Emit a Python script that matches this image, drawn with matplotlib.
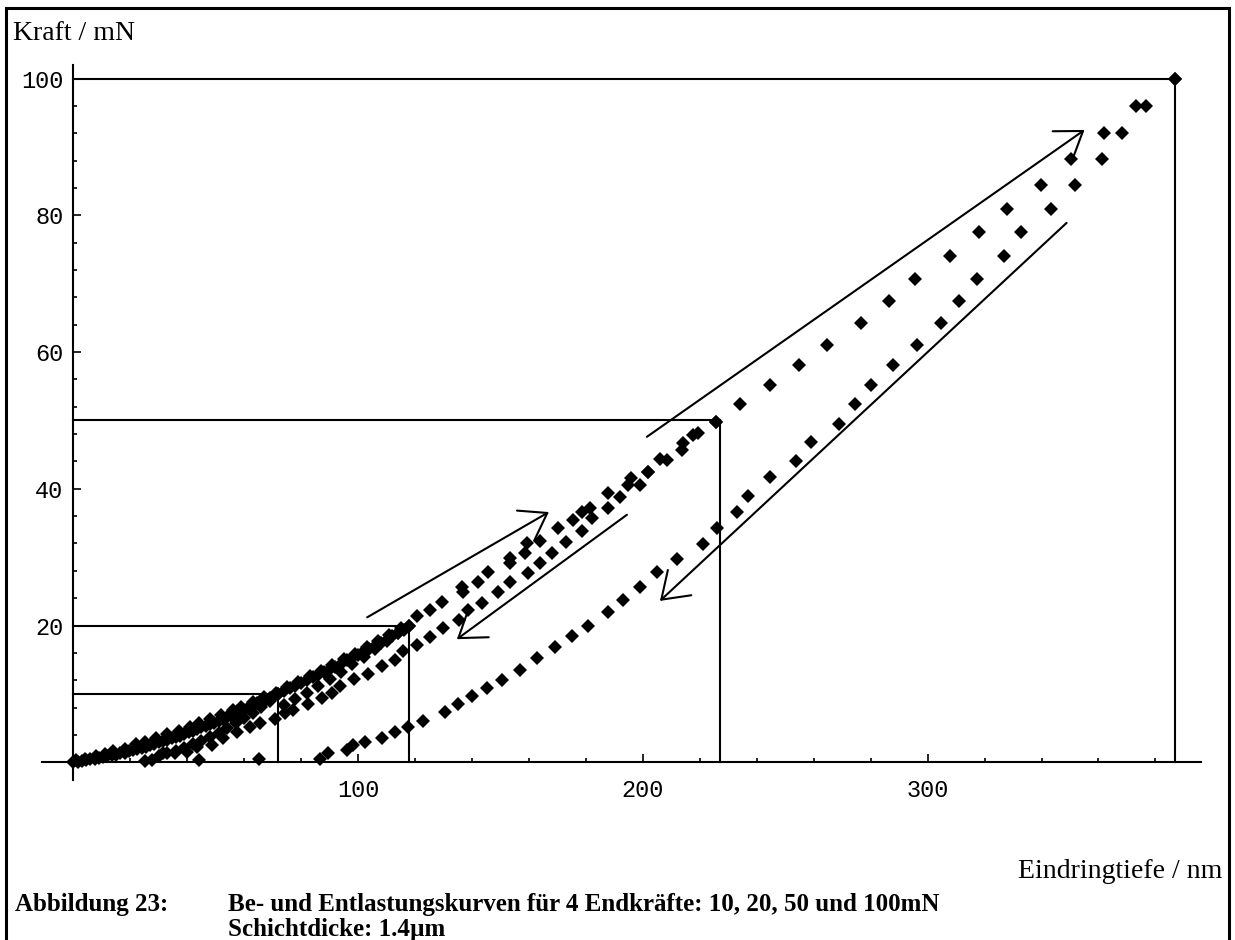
import matplotlib
matplotlib.use('Agg')
import matplotlib.pyplot as plt
from matplotlib.patches import Rectangle

# Endpunkte der 4 Zyklen (Eindringtiefe nm, Kraft mN)
peak_depth = [72, 118, 227, 387]
peak_force = [10, 20, 50, 100]

# Belastung (alle Zyklen liegen fast aufeinander)
load_x = [0, 1.5, 3, 4.5, 6, 7.5, 9, 10.5, 12, 13.5, 15, 16.5, 18, 19.5, 21, 22.5, 24, 25.5, 27, 28.5,
          30, 31.5, 33, 34.5, 36, 37.5, 39, 40.5, 42, 43.5, 45, 46.5, 48, 49.5, 51, 52.5, 54, 55.5,
          57, 58.5, 60, 61.5, 63, 64.5, 66, 67.5, 69, 70.5, 72, 74, 76, 78, 80, 82, 84, 86, 88, 90,
          92, 94, 96, 98, 100, 102, 104, 106, 108, 110, 112, 114, 116, 118,
          120.6, 125.3, 129.4, 136.4, 136.8, 142.1, 145.6, 153.3, 153.3, 159.2, 158.6, 163.9,
          170.2, 175.4, 178.5, 181.4, 187.7, 194.7, 196, 201.8, 206, 213.7, 217.6, 225.8,
          234, 244.6, 255, 264.8, 276.7, 286.3, 295.4, 308, 318, 327.7, 339.9, 350.4, 362, 373.3, 387]
load_y = [0.0, 0.1, 0.2, 0.3, 0.4, 0.5, 0.6, 0.8, 0.9, 1.0, 1.1, 1.3, 1.4, 1.6, 1.8, 2.0, 2.1, 2.3, 2.5, 2.7,
          2.9, 3.1, 3.3, 3.5, 3.7, 3.9, 4.1, 4.4, 4.6, 4.8, 5.1, 5.3, 5.6, 5.8, 6.1, 6.3, 6.6, 6.8,
          7.1, 7.4, 7.7, 8.0, 8.3, 8.6, 8.9, 9.1, 9.4, 9.7, 10.0, 10.4, 10.8, 11.2, 11.6, 12.0, 12.4, 12.8, 13.2, 13.6,
          14.0, 14.4, 14.9, 15.3, 15.7, 16.2, 16.6, 17.0, 17.5, 17.9, 18.4, 18.9, 19.4, 19.9,
          21.4, 22.3, 23.5, 25.7, 24.9, 26.4, 27.9, 29.9, 29.1, 32.0, 30.6, 32.3,
          34.3, 35.4, 36.6, 37.2, 39.4, 40.6, 41.6, 42.5, 44.4, 45.7, 47.9, 49.8,
          52.4, 55.2, 58.1, 61.0, 64.3, 67.5, 70.7, 74.0, 77.5, 81.0, 84.5, 88.3, 92.0, 96.0, 100.0]

load2_x = [1, 4, 8, 11, 14, 18, 22, 25, 29, 33, 37, 41, 44, 48, 52, 56, 59, 63, 67, 71, 75, 79,
           83, 87, 91, 95, 99, 103, 107, 111, 115]
load2_y = [0.3, 0.5, 0.9, 1.2, 1.6, 2.0, 2.6, 3.0, 3.5, 4.1, 4.6, 5.2, 5.7, 6.3, 6.9, 7.6, 8.1, 8.8, 9.5, 10.2, 11.0, 11.8,
           12.6, 13.4, 14.2, 15.1, 15.9, 16.8, 17.7, 18.6, 19.6]

# Entlastung 10 mN und 20 mN (im Band)
unload10_x = [72, 69, 66, 63, 60, 57, 54, 51, 48, 45, 42, 39, 36, 33, 30, 27.7, 25]
unload10_y = [10.0, 9.0, 8.1, 7.2, 6.4, 5.7, 5.0, 4.3, 3.7, 3.1, 2.6, 2.1, 1.7, 1.3, 0.9, 0.3, 0.2]
unload20_x = [118, 114, 110, 106, 102, 98, 94, 90, 86, 82, 78, 74, 44]
unload20_y = [20.0, 18.9, 17.7, 16.6, 15.4, 14.3, 13.2, 12.2, 11.1, 10.1, 9.2, 8.3, 0.3]

# Entlastung 50 mN
unload50_x = [225.8, 219.3, 214, 208.4, 201.8, 199, 192, 187.7, 182, 178.5, 172.9, 168, 163.9, 159.6,
              153.3, 149, 143.4, 138.6, 135.4, 129.8, 125.3, 120.6, 115.7, 113, 108.4, 103.5, 98.6,
              93.7, 90.8, 87.3, 82.5, 77.2, 74.4, 70.9, 65.6, 62.1, 57.4, 52.7, 48.7, 43.5, 39.9,
              35.8, 31.6, 65.3]
unload50_y = [49.8, 48.2, 46.7, 44.2, 42.5, 40.6, 38.8, 37.2, 35.7, 33.9, 32.2, 30.6, 29.2, 27.7,
              26.3, 24.9, 23.3, 22.3, 20.8, 19.6, 18.3, 17.1, 16.2, 14.9, 14.1, 12.9, 12.2,
              11.2, 10.1, 9.4, 8.5, 7.6, 7.2, 6.3, 5.7, 5.1, 4.4, 3.5, 2.5, 2.2, 1.5,
              1.3, 1.3, 0.4]

# Entlastung 100 mN
unload100_x = [387, 376.8, 368.4, 361.4, 351.6, 343.4, 332.9, 326.7, 317.2, 310.9, 304.8, 296.4, 288,
               280.2, 274.6, 269, 259.2, 253.7, 244.6, 237, 233, 226, 221, 212, 205, 199, 193, 187.7,
               180.7, 175, 169, 163, 157, 150.5, 145.3, 140, 135, 130.5, 122.8, 117.5, 113, 108.4,
               102.5, 98.2, 96, 89.5, 86.7]
unload100_y = [100, 96, 92, 88.3, 84.5, 81, 77.5, 74, 70.7, 67.5, 64.3, 61, 58.1,
               55.2, 52.4, 49.5, 46.8, 44.1, 41.7, 39, 36.6, 34.3, 31.9, 29.7, 27.8, 25.6, 23.7, 22,
               20, 18.4, 16.8, 15.2, 13.5, 12, 10.8, 9.7, 8.5, 7.3, 6.1, 5.1, 4.4, 3.5,
               2.9, 2.5, 1.8, 1.3, 0.4]

# Pfeile: (Start, Spitze)
arrows = [((103.2, 21.2), (167, 36.6)),
          ((194.4, 36.2), (134.7, 18.0)),
          ((201.4, 47.6), (355.1, 92.5)),
          ((348.8, 78.9), (206, 23.6))]

fig = plt.figure(figsize=(12.35, 9.4), dpi=100)
W, H = 1235, 940
ax = fig.add_axes([42 / W, (H - 780) / H, (1201 - 42) / W, (780 - 65) / H])
ax.set_xlim(-11, 396)
ax.set_ylim(-2.6, 102)

for s in ['top', 'right']:
    ax.spines[s].set_visible(False)
for s in ['left', 'bottom']:
    ax.spines[s].set_position(('data', 0))
    ax.spines[s].set_linewidth(1.5)

# Hilfslinien zu den Endpunkten
for d, f in zip(peak_depth, peak_force):
    ax.plot([0, d], [f, f], color='k', lw=1.5)
    ax.plot([d, d], [0, f], color='k', lw=1.5)

mk = dict(marker='D', ms=7.5, color='k', ls='none', mew=0)
ax.plot(load_x, load_y, **mk)
ax.plot(load2_x, load2_y, **mk)
ax.plot(unload10_x, unload10_y, **mk)
ax.plot(unload20_x, unload20_y, **mk)
ax.plot(unload50_x, unload50_y, **mk)
ax.plot(unload100_x, unload100_y, **mk)

for start, tip in arrows:
    ax.annotate('', xy=tip, xytext=start,
                arrowprops=dict(arrowstyle='->,head_length=0.9,head_width=0.62',
                                mutation_scale=20, lw=1.5, color='k',
                                shrinkA=0, shrinkB=0))

ax.set_xticks([100, 200, 300])
ax.set_xticks([20, 40, 60, 80, 120, 140, 160, 180, 220, 240, 260, 280, 320, 340, 360, 380], minor=True)
ax.set_yticks([20, 40, 60, 80, 100])
ax.set_yticks([4, 8, 12, 16, 24, 28, 32, 36, 44, 48, 52, 56, 64, 68, 72, 76, 84, 88, 92, 96], minor=True)
ax.tick_params(which='both', direction='in', width=1.2, color='k')
ax.tick_params(which='major', length=6)
ax.tick_params(which='minor', length=3)
ax.tick_params(axis='x', pad=12)
ax.tick_params(axis='y', pad=7)
for lab in ax.get_xticklabels() + ax.get_yticklabels():
    lab.set_fontfamily('Liberation Mono')
    lab.set_fontsize(17)

serif = 'Liberation Serif'
fig.text(13 / W, 1 - 40 / H, 'Kraft / mN', family=serif, size=20, va='baseline', ha='left')
fig.text(1222 / W, 1 - 878 / H, 'Eindringtiefe / nm', family=serif, size=20, va='baseline', ha='right')
fig.text(15 / W, 1 - 911 / H, 'Abbildung 23:', family=serif, size=18, weight='bold', va='baseline')
fig.text(228 / W, 1 - 911 / H, 'Be- und Entlastungskurven für 4 Endkräfte: 10, 20, 50 und 100mN',
         family=serif, size=18, weight='bold', va='baseline')
fig.text(228 / W, 1 - 936 / H, 'Schichtdicke: 1.4µm', family=serif, size=18, weight='bold', va='baseline')

# Rahmen um die ganze Abbildung
fig.patches.append(Rectangle((5.5 / W, -0.05), (1229 - 5.5) / W, 1.05 - 8.5 / H,
                             transform=fig.transFigure, fill=False, lw=2.2, ec='k'))

fig.savefig('out.png', dpi=100)
